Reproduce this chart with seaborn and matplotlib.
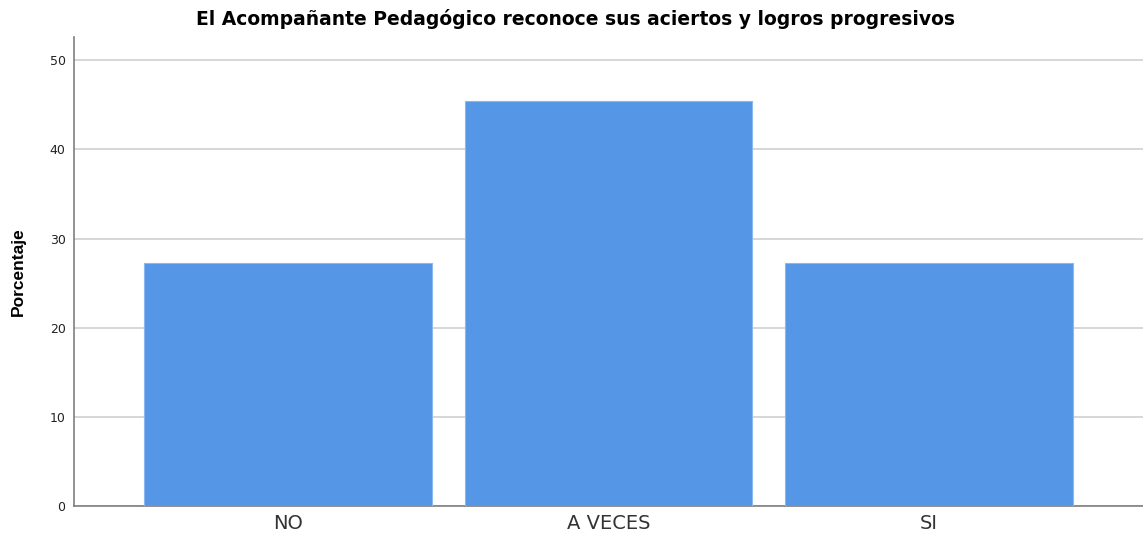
import matplotlib
matplotlib.use("Agg")
import matplotlib.pyplot as plt
import seaborn as sns
import pandas as pd

# Datos
categorias = ["NO", "A VECES", "SI"]
porcentajes = [27.27, 45.45, 27.27]
ticks_y = [0, 10, 20, 30, 40, 50]

df = pd.DataFrame({"respuesta": categorias, "porcentaje": porcentajes})

sns.set_style("white")
plt.rcParams["font.family"] = ["DejaVu Sans"]

fig = plt.figure(figsize=(11.43, 5.37), dpi=100)
ax = fig.add_axes([0.0647, 0.0577, 0.9353, 0.8733])

sns.barplot(data=df, x="respuesta", y="porcentaje", color="#5596e6",
            width=0.897, saturation=1, edgecolor="#8ab8f0", linewidth=0.8,
            ax=ax, zorder=3)

ax.set_xlim(-0.667, 2.667)
ax.set_ylim(0, 52.6)
ax.set_yticks(ticks_y)
ax.yaxis.grid(True, color="#d0d0d0", linewidth=1.2, zorder=0)
ax.set_axisbelow(True)

for s in ["top", "right"]:
    ax.spines[s].set_visible(False)
for s in ["left", "bottom"]:
    ax.spines[s].set_color("#7f7f7f")
    ax.spines[s].set_linewidth(1.2)

ax.tick_params(axis="y", labelsize=9, length=0, pad=6, colors="#222222")
ax.tick_params(axis="x", labelsize=14, length=0, pad=6, colors="#333333")
ax.set_xlabel("")
ax.set_ylabel("Porcentaje", fontsize=12.5, fontweight="bold", labelpad=17,
              family="Liberation Sans", color="black")
ax.set_title("El Acompañante Pedagógico reconoce sus aciertos y logros progresivos",
             fontsize=13.5, fontweight="bold", pad=9, color="black", x=0.469)

fig.savefig("out.png", dpi=100)
